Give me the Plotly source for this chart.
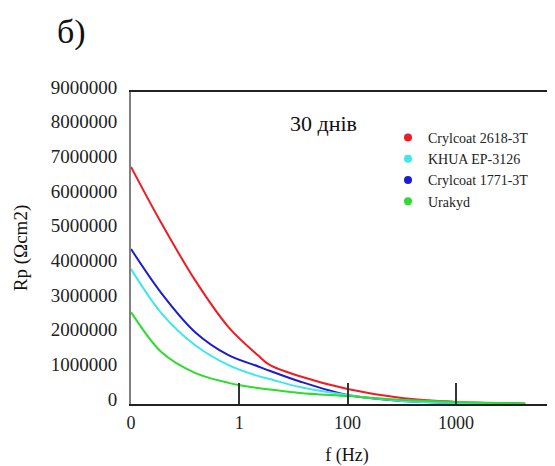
import plotly.graph_objects as go

# Category ticks on the frequency axis (equally spaced positions)
freq_labels = ["0", "1", "100", "1000"]
tick_pos = [0, 1, 2, 3]

# Sample positions along the frequency axis (in tick-index units)
x_pos = [0, 0.28, 0.59, 0.9, 1.17, 1.28, 1.56, 2.0, 2.5, 3.0, 3.64]

# Rp values (Ohm*cm2)
crylcoat_2618 = [6840000, 5220000, 3580000, 2220000, 1410000, 1130000, 800000, 430000, 170000, 60000, 10000]
khua_ep3126 = [3890000, 2620000, 1700000, 1120000, 810000, 720000, 490000, 260000, 90000, 30000, 10000]
crylcoat_1771 = [4470000, 3200000, 2080000, 1410000, 1090000, 960000, 650000, 260000, 90000, 30000, 10000]
urakyd = [2650000, 1500000, 900000, 610000, 460000, 420000, 320000, 230000, 120000, 60000, 10000]

y_ticks = [0, 1000000, 2000000, 3000000, 4000000, 5000000, 6000000, 7000000, 8000000, 9000000]

series = [
    ("Crylcoat 2618-3T", crylcoat_2618, "#ee1c25"),
    ("KHUA EP-3126", khua_ep3126, "#3fe6ee"),
    ("Crylcoat 1771-3T", crylcoat_1771, "#1c1ccc"),
    ("Urakyd", urakyd, "#2edb2e"),
]

fig = go.Figure()
for name, vals, col in [series[0], series[2], series[1], series[3]]:
    fig.add_trace(go.Scatter(x=x_pos, y=vals, mode="lines", name=name,
                             line=dict(color=col, width=2, shape="spline", smoothing=0.9),
                             showlegend=False))
for name, vals, col in series:
    fig.add_trace(go.Scatter(x=[None], y=[None], mode="markers", name=name,
                             marker=dict(color=col, size=8)))

serif = "Liberation Serif"

# page body has an 8px default margin: plot area placed accordingly
PW = 432.0   # plot width in px
PH = 312.0   # plot height in px
UNIT = 108.3  # px per tick step

fig.update_layout(
    width=555, height=466,
    margin=dict(l=123, r=0, t=84, b=70),
    paper_bgcolor="white", plot_bgcolor="white",
    font=dict(family=serif, color="#222222"),
    showlegend=True,
    legend=dict(x=(388 - 131) / PW, y=(404 - 122) / PH, xanchor="left", yanchor="top",
                font=dict(family=serif, size=14, color="#222222"),
                bgcolor="rgba(0,0,0,0)", itemwidth=30),
    xaxis=dict(range=[0, PW / UNIT], tickmode="array", tickvals=tick_pos, ticktext=freq_labels,
               automargin=False,
               showline=True, linecolor="#222222", linewidth=1.5, mirror=True,
               ticks="inside", ticklen=21, tickwidth=1.5, tickcolor="#333333",
               showgrid=False, zeroline=False,
               tickfont=dict(family=serif, size=18, color="#222222"),
               ticklabelstandoff=2,
               title=dict(text="f (Hz)", font=dict(family=serif, size=18, color="#111111"),
                          standoff=16)),
    yaxis=dict(range=[0, 9000000], tickmode="array", tickvals=y_ticks,
               ticktext=[str(v) for v in y_ticks],
               automargin=False,
               showline=True, linecolor="#808080", linewidth=2,
               ticks="", showgrid=False, zeroline=False,
               tickfont=dict(family=serif, size=19, color="#222222"),
               ticklabelstandoff=8, ticklabelshift=-5,
               title=dict(text="Rp (Ωcm2)", font=dict(family=serif, size=19, color="#111111"),
                          standoff=18)),
    annotations=[
        dict(text="30 днів", xref="paper", yref="paper", x=(323 - 131) / PW, y=(404 - 123) / PH,
             xanchor="center", yanchor="middle", showarrow=False,
             font=dict(family=serif, size=22, color="#111111")),
        dict(text="б)", xref="paper", yref="paper", x=(71 - 131) / PW, y=(404 - 32) / PH,
             xanchor="center", yanchor="middle", showarrow=False,
             font=dict(family=serif, size=34, color="#111111")),
    ],
)

fig.write_html("out.html")
